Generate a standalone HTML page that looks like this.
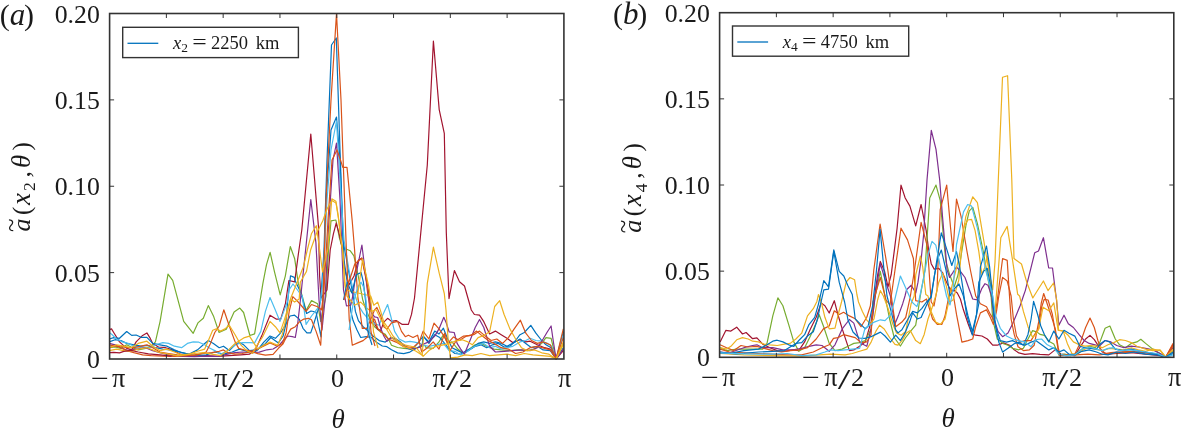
<!DOCTYPE html>
<html><head><meta charset="utf-8"><title>figure</title>
<style>
html,body{margin:0;padding:0;background:#fff;}
svg{display:block;will-change:transform;font-family:"Liberation Serif", serif;fill:#1a1a1a;}
</style></head>
<body>
<svg width="1184" height="429" viewBox="0 0 1184 429">
<rect width="1184" height="429" fill="#fff"/>
<clipPath id="ca"><rect x="109.6" y="12.5" width="454.29999999999995" height="347.0"/></clipPath>
<clipPath id="cb"><rect x="719.6" y="11.7" width="454.19999999999993" height="346.1"/></clipPath>
<polyline points="109.3,347.7 115.1,347.0 120.9,348.4 126.7,344.8 132.5,347.7 138.2,349.9 145.5,348.4 151.2,346.2 155.4,341.8 160.1,321.3 168.0,274.1 172.7,280.4 183.7,321.3 193.2,333.3 197.9,322.9 203.3,318.2 208.3,305.6 213.7,316.6 219.0,332.4 226.3,329.2 234.1,311.9 239.8,308.1 243.6,312.5 249.9,335.5 254.6,333.9 262.9,283.4 266.5,264.6 270.1,252.3 274.5,271.8 280.2,294.9 285.3,276.1 290.3,246.5 294.7,258.8 298.3,283.4 301.9,294.9 306.1,310.6 311.5,300.6 317.6,303.7 320.7,321.4 326.0,296.0 328.5,250.0 331.0,220.8 335.9,220.0 339.2,237.0 342.4,248.5 345.3,248.7 350.3,250.8 353.9,255.9 356.8,268.9 359.7,283.4 362.6,299.2 365.4,308.3 370.0,319.1 374.6,326.7 380.7,332.1 385.3,334.4 389.2,340.6 391.5,345.2 397.6,347.5 403.8,348.3 409.9,349.0 416.1,348.3 425.0,345.2 426.0,347.7 433.2,348.4 439.0,341.9 443.4,334.7 447.7,343.4 452.0,341.9 457.8,349.1 463.6,353.5 469.4,349.1 475.2,344.8 480.9,343.4 486.7,346.3 494.0,349.1 501.2,349.9 509.9,350.6 518.5,349.9 527.2,350.6 534.4,349.1 541.7,343.4 546.0,337.6 551.1,338.3 556.1,359.0 563.3,343.4" fill="none" stroke="#77AC30" stroke-width="1.2" stroke-linejoin="round" clip-path="url(#ca)"/>
<polyline points="109.3,329.6 111.5,328.9 113.7,332.5 119.5,341.9 126.7,348.4 131.7,349.9 136.1,341.9 142.6,335.4 146.9,332.9 149.8,337.6 152.7,343.4 158.5,347.0 165.7,347.7 172.9,349.9 180.1,354.2 187.4,355.6 194.6,356.4 206.2,355.6 217.7,356.4 229.3,355.6 240.8,354.9 249.5,354.2 256.1,348.3 262.3,334.4 270.0,315.2 276.1,319.1 280.7,319.1 285.4,303.7 288.9,280.5 294.7,281.9 298.3,254.5 301.8,230.0 310.8,134.0 318.5,227.0 319.6,276.0 321.0,298.0 327.0,290.0 330.2,250.0 333.4,233.8 336.2,223.2 339.2,233.8 342.7,250.0 344.5,268.0 349.0,285.0 354.0,276.0 358.3,260.2 361.9,258.0 364.0,269.0 368.4,290.6 371.5,311.4 373.8,322.1 377.7,329.1 380.7,330.6 383.8,322.1 387.6,318.3 391.5,321.4 396.1,320.6 402.3,324.4 408.4,324.4 411.5,314.4 414.5,298.0 427.3,165.0 433.4,41.0 439.2,109.6 444.3,133.3 446.3,232.6 449.0,298.6 454.4,270.5 459.5,281.7 464.5,286.0 471.3,310.0 474.4,314.5 479.5,315.2 483.8,321.7 489.6,334.0 495.4,331.1 501.2,334.7 507.0,338.3 512.7,342.6 520.0,339.8 525.8,341.9 530.1,341.2 537.3,344.8 544.6,347.7 550.3,349.1 556.1,359.0 563.3,350.6" fill="none" stroke="#A2142F" stroke-width="1.2" stroke-linejoin="round" clip-path="url(#ca)"/>
<polyline points="109.3,339.0 113.7,337.6 119.5,338.3 126.7,331.5 131.7,335.4 136.1,335.0 141.1,337.3 146.9,337.3 152.7,343.4 159.9,344.8 167.1,346.2 174.4,349.9 181.6,352.7 188.8,354.2 197.5,349.9 203.3,344.8 208.3,340.5 213.4,343.4 219.2,347.7 223.5,346.2 229.3,350.6 235.1,344.8 239.4,342.6 243.7,344.8 249.5,350.6 257.7,349.8 263.8,342.1 270.0,336.0 275.4,338.3 280.0,333.7 285.4,325.2 290.0,316.0 294.6,315.2 299.2,319.1 303.0,328.3 306.9,332.9 310.7,332.9 313.8,323.7 317.6,311.4 320.7,300.6 324.0,250.0 327.0,160.0 331.5,45.0 336.3,38.0 340.0,150.0 344.0,260.0 349.2,296.0 350.8,311.4 353.1,320.6 356.9,329.8 360.7,337.5 366.1,336.7 371.5,337.5 376.1,342.1 382.3,346.0 386.9,346.7 391.5,349.8 397.6,352.9 403.8,353.6 409.9,352.1 416.1,348.3 422.2,345.2 423.1,336.1 428.9,341.9 434.7,331.1 439.0,334.0 443.4,328.2 447.7,339.0 452.0,347.7 457.8,350.6 463.6,353.5 469.4,349.9 475.2,346.3 480.9,344.8 486.7,347.7 492.5,344.8 498.3,343.4 504.1,347.0 509.9,346.3 515.6,340.5 520.0,334.7 524.3,332.5 530.8,325.3 535.9,333.2 541.7,340.5 546.0,344.8 551.1,347.7 556.1,359.0 563.3,331.8" fill="none" stroke="#0072BD" stroke-width="1.2" stroke-linejoin="round" clip-path="url(#ca)"/>
<polyline points="109.3,341.9 115.1,339.7 120.9,340.5 126.7,343.4 133.9,344.8 141.1,346.2 148.4,345.5 155.6,347.7 162.8,349.1 170.0,349.9 177.3,351.3 185.9,353.5 194.6,355.6 206.2,354.9 214.8,352.0 223.5,354.2 232.2,352.0 239.4,349.1 246.6,351.3 253.8,352.7 259.2,348.3 265.4,343.7 270.8,337.5 278.4,342.9 283.1,336.0 285.7,325.2 287.8,300.0 290.5,275.8 294.3,277.4 295.3,281.0 300.5,292.0 306.6,313.5 311.0,311.0 316.0,312.0 321.0,337.0 323.0,300.0 326.0,200.0 331.0,130.0 336.5,117.0 340.0,160.0 343.0,240.0 353.1,296.0 355.4,311.4 358.4,320.6 363.1,326.7 368.4,331.4 373.0,336.0 379.2,340.6 385.3,342.1 391.5,337.5 396.1,339.0 400.7,342.1 406.9,348.3 411.5,349.8 416.1,345.2 422.2,337.5 423.9,336.9 428.9,343.4 434.7,334.7 439.8,337.6 443.4,341.9 449.1,349.1 454.9,353.5 460.7,354.2 466.5,350.6 472.3,347.7 478.1,343.4 483.8,341.9 489.6,343.4 495.4,341.9 501.2,343.4 507.0,346.3 512.7,343.4 520.0,339.0 525.8,343.4 531.5,347.7 537.3,346.3 543.1,349.9 550.3,350.6 556.1,359.0 563.3,347.7" fill="none" stroke="#0072BD" stroke-width="1.2" stroke-linejoin="round" clip-path="url(#ca)"/>
<polyline points="109.3,332.5 112.2,334.7 116.6,339.0 122.3,341.9 128.1,343.4 133.9,346.2 141.1,347.7 148.4,348.4 155.6,344.8 162.8,342.6 168.6,343.4 174.4,346.2 181.6,347.7 187.4,343.4 193.2,341.9 198.9,342.2 204.7,344.8 209.0,347.7 214.8,350.6 220.6,354.2 227.8,350.6 235.1,344.8 242.3,342.6 249.5,342.6 254.6,342.9 260.8,331.4 265.4,311.4 270.0,297.5 274.6,308.3 280.0,321.4 283.8,311.4 287.7,300.6 289.0,290.0 293.0,284.0 299.0,292.0 302.3,296.0 306.1,324.4 311.5,316.0 317.6,308.3 319.9,305.2 323.0,280.0 327.0,200.0 331.0,150.0 336.5,121.0 340.0,180.0 344.0,240.0 349.0,270.0 353.0,290.0 358.4,305.2 363.1,312.9 368.4,319.1 374.6,323.7 379.2,325.2 383.0,314.4 387.6,304.5 390.7,316.0 394.6,331.4 399.2,339.0 405.3,342.1 409.9,341.3 414.6,342.1 420.7,343.7 421.7,344.8 428.9,346.3 436.1,344.8 443.4,343.4 449.1,350.6 454.9,351.3 460.7,354.9 466.5,352.0 472.3,347.7 478.1,344.8 483.8,343.4 489.6,347.7 495.4,346.3 501.2,349.1 507.0,347.7 512.7,346.3 520.0,341.9 525.8,340.5 530.1,338.3 535.9,340.5 541.7,341.2 547.4,343.4 551.8,346.3 556.1,359.0 563.3,334.7" fill="none" stroke="#4DBEEE" stroke-width="1.2" stroke-linejoin="round" clip-path="url(#ca)"/>
<polyline points="109.3,343.4 115.1,344.8 120.9,347.7 128.1,350.6 136.8,349.1 145.5,347.7 152.7,350.6 162.8,353.5 172.9,355.6 183.0,356.4 194.6,356.6 206.2,356.1 217.7,356.4 227.8,354.2 235.1,352.7 242.3,352.0 249.5,352.7 259.2,352.1 266.9,349.8 273.1,349.0 279.2,345.2 283.1,340.6 287.7,336.0 292.3,336.7 295.3,337.5 297.7,323.7 300.0,303.7 305.6,250.0 310.8,199.5 315.9,242.6 319.0,300.0 322.0,330.0 325.0,300.0 329.0,220.0 333.0,160.0 336.5,143.0 340.0,200.0 343.5,290.0 346.5,306.0 350.8,305.2 352.8,296.0 355.0,280.0 358.5,262.0 361.9,245.0 365.0,270.0 368.0,296.0 371.5,312.9 374.6,316.8 377.7,317.5 380.7,328.3 383.8,336.0 386.9,341.3 390.7,337.5 396.1,340.6 402.3,343.7 408.4,348.3 414.6,349.0 420.7,346.7 421.7,344.8 428.9,341.9 434.7,336.1 439.0,328.9 443.8,317.3 446.3,323.1 449.1,331.8 454.2,332.5 457.1,343.4 460.7,349.1 464.3,354.2 469.4,341.9 475.2,327.5 479.5,319.5 483.8,327.5 489.6,346.3 495.4,352.0 504.1,351.3 512.7,350.6 521.4,349.9 530.1,350.6 537.3,347.7 543.1,339.0 547.4,331.8 551.1,326.0 553.2,340.5 556.1,359.0 563.3,349.1" fill="none" stroke="#7E2F8E" stroke-width="1.2" stroke-linejoin="round" clip-path="url(#ca)"/>
<polyline points="109.3,347.7 115.1,345.5 120.9,347.7 126.7,350.6 133.9,352.7 142.6,354.9 151.2,355.6 162.8,356.1 174.4,356.4 185.9,355.6 197.5,354.9 206.2,352.0 210.5,343.4 214.8,332.5 219.2,326.0 223.8,309.8 229.3,326.0 235.1,341.9 238.7,348.4 243.7,349.9 249.5,350.6 257.7,353.6 265.4,355.2 273.1,354.4 278.4,348.3 283.1,343.7 286.9,336.0 290.7,329.1 295.3,326.7 299.2,322.1 303.8,319.1 308.4,318.3 311.5,319.8 316.1,331.4 320.7,345.2 322.6,311.4 326.0,200.0 331.0,100.0 336.5,13.6 341.0,100.0 346.0,240.0 349.2,319.1 352.3,345.2 357.7,342.9 363.1,340.6 367.7,336.7 370.7,323.7 374.6,319.1 377.7,328.3 382.3,332.9 388.4,339.0 396.1,342.1 403.8,346.7 413.0,347.5 419.2,342.1 423.1,331.1 428.9,339.0 434.0,323.1 439.0,328.9 444.1,336.1 447.7,343.4 453.5,336.9 459.3,340.5 466.5,336.1 473.7,334.7 479.5,331.1 485.3,336.1 491.1,340.5 496.8,339.0 502.6,343.4 508.4,337.6 514.2,328.9 520.4,320.2 525.8,333.2 531.5,340.5 537.3,343.4 543.1,341.9 550.3,344.8 556.1,359.0 563.3,328.9" fill="none" stroke="#D95319" stroke-width="1.2" stroke-linejoin="round" clip-path="url(#ca)"/>
<polyline points="109.3,344.8 115.1,346.2 120.9,346.2 126.7,347.7 133.9,347.7 141.1,346.2 146.9,344.8 152.7,347.7 159.9,352.0 168.6,353.5 177.3,354.9 185.9,355.6 194.6,354.9 203.3,353.5 211.9,352.7 219.2,351.3 223.5,349.9 227.8,352.7 235.1,354.2 242.3,353.5 249.5,352.0 256.1,349.8 262.3,346.7 270.0,342.9 276.9,346.0 282.3,343.7 286.1,332.9 289.2,311.4 292.8,296.6 297.4,301.2 300.0,304.0 306.1,311.4 311.5,304.5 317.6,306.8 321.5,309.8 324.0,290.0 328.0,220.0 332.0,160.0 337.0,150.0 340.5,160.0 342.8,167.4 347.0,167.4 352.2,220.8 354.6,250.0 357.7,296.0 360.0,311.4 362.3,328.3 366.9,328.3 370.3,320.6 374.6,309.8 376.9,307.5 380.7,316.0 383.8,326.7 386.9,329.1 391.5,322.9 397.6,321.4 401.5,331.4 405.3,336.7 408.4,335.2 413.0,337.5 417.6,335.2 421.7,352.0 427.5,347.7 433.2,341.9 439.0,349.1 444.8,333.2 449.9,350.6 456.4,340.5 463.6,336.1 470.8,335.4 476.6,331.1 482.4,336.1 488.2,340.5 494.0,343.4 501.2,347.7 508.4,349.1 515.6,353.5 522.9,352.0 530.1,347.7 537.3,346.3 544.6,348.4 550.3,349.9 556.1,359.0 563.3,337.6" fill="none" stroke="#D95319" stroke-width="1.2" stroke-linejoin="round" clip-path="url(#ca)"/>
<polyline points="109.3,347.7 116.6,344.8 123.8,346.2 131.0,347.7 138.2,343.4 146.9,341.2 152.7,346.2 159.9,350.6 167.1,349.1 174.4,352.0 181.6,354.9 188.8,354.2 197.5,351.3 204.7,349.1 209.0,339.0 212.7,330.3 216.3,328.9 220.6,331.1 224.9,328.9 229.3,325.3 235.1,334.7 240.8,344.8 246.6,350.6 252.4,353.5 256.1,346.7 262.3,337.5 270.0,321.4 275.4,326.7 280.0,332.9 284.6,319.1 290.0,300.6 291.0,297.5 297.2,282.2 303.4,266.8 307.3,250.0 311.4,233.8 316.3,225.7 319.0,245.0 322.5,272.0 327.7,250.0 331.8,198.8 335.9,201.2 338.3,216.0 340.8,239.0 342.7,250.0 344.5,282.0 346.9,296.0 354.6,305.2 360.7,302.1 366.9,308.3 371.5,311.4 376.1,309.8 380.7,319.1 386.9,329.8 391.5,337.5 397.6,342.1 403.8,346.7 409.9,348.3 416.1,351.3 422.2,355.2 427.3,283.4 433.4,247.2 439.2,273.2 444.3,293.5 446.0,310.0 448.4,343.4 450.6,357.8 457.8,357.1 465.0,354.9 472.3,355.7 480.9,353.5 489.6,355.7 498.3,354.9 507.0,354.2 515.6,355.7 524.3,353.5 533.0,354.9 541.7,355.7 550.3,356.4 556.1,359.0 563.3,344.8" fill="none" stroke="#EDB120" stroke-width="1.2" stroke-linejoin="round" clip-path="url(#ca)"/>
<polyline points="109.3,350.6 116.6,349.1 123.8,350.6 131.0,351.3 138.2,349.1 146.9,347.7 152.7,349.9 159.9,352.7 168.6,354.2 177.3,355.6 185.9,354.9 194.6,353.5 203.3,352.7 211.9,354.2 220.6,355.6 227.8,350.6 235.1,343.4 243.7,337.9 249.5,336.1 257.7,349.0 263.8,345.2 270.0,342.1 277.7,345.2 282.3,334.4 286.9,314.4 290.7,299.1 294.6,302.1 299.2,299.1 300.3,282.2 306.5,271.4 310.6,250.0 316.3,233.8 322.8,220.8 327.0,209.0 331.8,200.5 336.0,203.0 339.0,222.0 343.0,255.0 345.5,290.0 370.7,296.0 373.8,305.2 377.7,302.1 380.7,311.4 383.8,322.1 388.4,328.3 393.0,336.0 399.2,342.1 405.3,345.2 409.9,346.0 416.1,347.5 423.1,356.4 428.9,350.6 436.1,346.3 443.4,344.8 449.9,343.4 454.9,341.2 462.2,339.8 467.9,341.9 472.3,344.8 478.1,337.6 483.8,335.4 489.6,331.8 494.7,306.5 499.7,300.7 504.1,314.5 509.9,328.9 515.6,339.0 521.4,347.7 527.2,350.6 534.4,349.9 541.7,352.8 548.9,354.2 556.1,359.0 563.3,341.9" fill="none" stroke="#EDB120" stroke-width="1.2" stroke-linejoin="round" clip-path="url(#ca)"/>
<polyline points="343.5,300.0 347.2,282.2 351.8,292.9 356.5,274.5 361.1,272.6 363.4,282.2 365.7,302.0 368.0,332.0 372.0,345.0" fill="none" stroke="#0072BD" stroke-width="1.2" stroke-linejoin="round" clip-path="url(#ca)"/>
<polyline points="349.0,330.0 353.4,302.0 358.0,286.8 361.1,282.2 363.4,286.8 365.7,297.5 368.0,322.0 371.0,340.0" fill="none" stroke="#4DBEEE" stroke-width="1.2" stroke-linejoin="round" clip-path="url(#ca)"/>
<polyline points="344.0,300.0 348.8,282.2 354.9,263.7 361.8,258.3 365.7,274.5 368.8,297.5 371.0,332.0 375.0,346.0" fill="none" stroke="#D95319" stroke-width="1.2" stroke-linejoin="round" clip-path="url(#ca)"/>
<polyline points="357.0,300.0 362.6,259.0 368.8,286.8 371.0,302.0 373.5,332.0 378.0,348.0" fill="none" stroke="#EDB120" stroke-width="1.2" stroke-linejoin="round" clip-path="url(#ca)"/>
<polyline points="109.3,352.7 113.7,352.3 119.5,352.9 123.8,351.4 131.0,350.3 138.2,352.0 148.4,353.8 159.9,354.9 171.5,356.1" fill="none" stroke="#A2142F" stroke-width="1.2" stroke-linejoin="round" clip-path="url(#ca)"/>
<polyline points="720.1,341.9 725.8,330.4 730.9,331.1 736.7,327.2 742.5,334.0 746.1,332.5 752.6,338.7 756.9,337.9 762.7,344.1 769.9,347.7 777.2,350.6 784.4,351.3 793.1,349.9 798.8,350.6 804.6,341.9 810.4,328.9 816.2,317.3 821.2,302.9 824.9,305.8 829.2,313.0 834.3,300.7 837.9,314.5 842.2,328.9 849.4,350.6 853.8,349.9 859.6,346.3 865.3,341.9 871.1,321.7 873.8,302.0 877.7,274.5 880.3,261.4 884.6,271.4 888.0,286.8 891.2,274.5 894.2,251.4 897.1,228.2 901.0,185.1 905.2,198.0 909.9,206.1 915.7,225.9 921.1,204.5 926.2,230.6 928.8,251.4 931.2,263.7 934.2,269.1 938.8,268.3 942.7,272.9 946.5,282.2 950.4,289.8 954.2,290.6 957.3,292.9 960.4,299.0 963.4,309.8 968.1,323.7 971.9,333.7 975.7,335.2 981.9,336.0 987.3,339.0 992.7,345.2 997.3,345.2 1003.4,342.9 1009.6,345.2 1014.2,349.8 1018.8,352.9 1024.9,354.4 1032.6,353.6 1040.0,354.4 1048.8,354.9 1056.0,349.1 1060.3,354.2 1067.6,354.9 1074.8,355.6 1080.6,346.2 1085.6,339.0 1090.0,335.4 1094.3,339.7 1098.6,346.2 1102.3,352.0 1108.0,354.2 1116.7,353.5 1131.2,352.7 1145.6,354.2 1160.1,355.6 1165.8,357.1 1173.1,344.8" fill="none" stroke="#A2142F" stroke-width="1.2" stroke-linejoin="round" clip-path="url(#cb)"/>
<polyline points="720.1,347.7 726.6,350.6 736.7,349.1 751.1,349.1 762.7,349.1 767.0,343.4 772.8,315.9 777.9,297.8 782.9,305.8 788.7,324.6 793.8,341.9 798.8,351.3 804.6,347.7 810.4,336.1 816.2,323.1 819.1,314.5 823.4,326.0 829.2,343.4 835.0,350.6 842.2,349.1 848.0,346.3 853.8,343.4 859.6,342.6 865.3,340.5 871.1,328.9 874.5,300.0 880.3,271.4 885.0,296.0 889.6,319.0 894.2,337.5 900.4,346.0 905.7,337.5 911.1,330.6 915.7,325.2 918.0,311.4 920.3,296.0 925.0,270.0 929.7,198.0 936.0,185.1 940.2,200.3 943.7,239.9 946.0,262.0 949.6,274.5 954.2,286.8 958.0,275.0 962.0,250.0 966.0,225.0 969.3,210.8 972.8,207.3 977.4,223.6 983.3,251.5 987.3,274.5 991.2,297.5 992.7,319.1 997.3,339.0 1003.4,343.7 1008.0,345.2 1012.6,348.3 1018.8,349.8 1023.4,348.3 1028.0,339.0 1032.6,330.6 1037.2,332.1 1040.0,334.4 1044.5,335.4 1048.8,341.2 1053.8,344.1 1058.9,354.9 1064.7,354.2 1070.5,355.6 1076.2,353.5 1082.0,349.1 1089.2,346.2 1095.0,347.7 1099.4,343.4 1105.1,328.2 1109.9,326.0 1115.3,339.0 1119.6,344.8 1125.4,347.7 1131.2,343.4 1136.9,341.9 1140.8,339.3 1145.6,343.4 1152.8,349.1 1160.1,353.5 1165.8,357.1 1173.1,350.6" fill="none" stroke="#77AC30" stroke-width="1.2" stroke-linejoin="round" clip-path="url(#cb)"/>
<polyline points="720.1,352.0 729.5,352.8 743.9,347.7 752.6,345.5 756.9,344.8 762.7,347.7 772.8,347.7 782.9,349.9 793.1,349.9 801.7,348.4 809.0,346.3 816.2,344.8 822.0,345.5 829.2,351.3 835.0,344.8 842.2,328.9 849.4,319.5 853.8,323.1 859.6,341.9 863.9,344.8 866.8,346.3 871.1,328.9 876.0,290.0 880.3,263.7 885.8,282.2 890.4,296.0 892.7,311.4 895.0,323.7 898.8,314.4 902.7,303.7 905.0,296.0 906.5,289.8 911.2,285.2 915.8,292.9 918.0,282.2 921.2,259.0 923.5,236.0 927.0,180.0 931.3,130.4 936.0,149.4 939.7,180.0 942.5,216.6 947.1,270.0 949.6,277.5 952.7,272.9 956.5,266.8 960.4,271.4 965.0,277.5 968.8,288.3 972.7,299.0 977.3,299.8 981.9,288.3 985.0,283.7 988.0,285.2 991.2,294.5 994.2,319.0 998.0,331.4 1002.6,336.7 1008.0,332.9 1012.6,323.7 1016.5,314.4 1020.3,305.2 1023.4,296.0 1025.3,290.6 1034.7,252.8 1038.5,251.0 1043.4,237.7 1048.7,268.0 1052.5,268.0 1056.5,300.0 1058.9,325.3 1064.0,315.2 1068.3,323.8 1073.4,327.5 1079.1,334.7 1084.2,340.5 1089.2,343.4 1095.0,344.8 1099.4,346.2 1105.1,340.5 1110.9,341.9 1116.7,345.5 1123.9,347.7 1131.2,346.2 1138.4,347.0 1145.6,348.4 1152.8,349.9 1160.1,353.5 1165.8,357.1 1173.1,347.7" fill="none" stroke="#7E2F8E" stroke-width="1.2" stroke-linejoin="round" clip-path="url(#cb)"/>
<polyline points="720.1,344.8 726.6,347.7 733.8,350.6 741.0,345.5 748.2,347.0 756.9,346.3 764.1,348.4 772.8,350.6 781.5,352.0 790.2,350.6 798.8,349.9 807.5,347.7 816.2,339.0 823.4,328.9 829.2,326.0 834.3,310.8 839.3,314.5 843.6,312.3 849.4,315.9 855.2,318.8 861.0,326.7 866.8,317.3 870.4,305.8 873.8,270.0 880.1,224.0 887.8,270.0 893.4,311.4 895.7,326.7 901.9,322.1 905.7,317.5 908.8,303.7 910.4,296.0 914.5,270.0 921.1,222.4 927.4,246.9 928.8,266.8 931.2,302.0 934.0,306.0 937.0,290.0 940.2,209.6 946.7,185.1 950.6,228.2 953.0,251.5 956.5,199.1 961.1,216.6 967.0,251.5 970.4,270.0 975.7,296.0 980.4,303.7 986.5,306.8 990.4,314.4 994.2,320.6 997.3,300.0 1002.6,258.5 1007.2,260.4 1009.5,296.0 1011.1,319.0 1014.2,334.4 1018.0,346.7 1023.4,350.6 1029.5,349.8 1034.2,345.2 1038.7,321.7 1041.3,302.9 1043.7,293.5 1045.9,300.0 1051.7,317.3 1055.3,328.9 1058.2,347.7 1060.3,355.6 1067.6,354.9 1074.8,354.2 1080.6,341.9 1085.6,327.5 1090.0,318.1 1094.3,327.5 1097.9,340.5 1100.8,349.1 1105.1,353.5 1110.9,352.7 1116.7,352.0 1131.2,351.3 1145.6,352.7 1160.1,354.9 1165.8,357.1 1173.1,343.4" fill="none" stroke="#D95319" stroke-width="1.2" stroke-linejoin="round" clip-path="url(#cb)"/>
<polyline points="720.1,349.1 729.5,352.0 743.9,352.8 758.4,353.5 772.8,354.2 787.3,354.9 801.7,354.9 813.3,352.0 822.0,347.7 829.2,344.8 833.5,338.3 837.9,337.6 843.6,334.7 849.4,336.1 855.2,337.6 861.0,342.6 866.8,341.9 871.1,334.7 873.0,302.0 880.3,277.5 886.0,300.0 890.0,305.0 895.0,270.0 901.0,228.2 907.5,239.9 913.4,258.5 915.7,300.6 921.9,302.0 926.5,299.0 932.6,319.0 937.3,324.4 941.9,324.4 945.0,316.0 948.0,300.6 950.5,288.0 953.5,296.0 956.5,314.4 961.9,342.1 968.0,340.6 972.7,339.0 975.7,326.7 980.4,312.9 986.5,309.8 990.4,317.5 993.4,324.4 996.5,311.4 998.8,296.0 1002.6,277.4 1007.2,281.0 1011.1,296.0 1013.4,319.0 1016.5,336.0 1020.3,342.1 1025.0,340.6 1031.0,340.6 1035.7,332.9 1038.7,328.9 1041.6,307.2 1044.2,299.3 1048.1,300.0 1052.4,314.5 1056.0,336.1 1058.9,354.9 1067.6,355.6 1076.2,354.9 1087.8,354.2 1099.4,354.9 1110.9,353.5 1122.5,352.7 1134.0,352.0 1145.6,352.7 1157.2,354.2 1165.8,357.1 1173.1,346.2" fill="none" stroke="#D95319" stroke-width="1.2" stroke-linejoin="round" clip-path="url(#cb)"/>
<polyline points="720.1,347.7 726.6,349.1 730.9,346.3 736.7,339.8 742.5,337.6 748.2,339.0 752.6,341.2 758.4,341.9 764.1,344.1 769.9,344.8 777.2,345.5 784.4,344.1 790.2,343.4 795.9,339.0 801.7,333.2 807.5,315.9 813.3,308.7 816.9,301.4 818.5,294.5 821.5,303.0 824.9,317.3 829.2,328.9 835.0,328.2 838.6,313.0 841.5,302.0 846.2,282.2 850.0,277.5 854.6,279.8 856.9,294.5 858.5,302.0 862.4,311.6 866.8,320.2 870.4,323.9 874.0,318.8 877.6,300.0 880.3,290.6 883.4,296.0 888.0,308.3 892.7,323.7 896.5,332.9 901.1,335.2 905.7,331.4 908.8,316.0 911.1,303.7 914.2,296.0 915.8,274.5 920.4,256.0 922.7,266.8 925.8,294.5 928.0,296.0 931.1,311.4 935.7,322.1 940.3,324.4 945.0,319.0 948.0,305.2 949.5,296.0 958.8,258.5 965.8,216.6 972.8,196.8 977.4,202.6 982.1,230.6 986.8,258.5 989.6,274.5 992.7,290.0 995.0,262.0 998.3,180.0 1002.5,77.3 1007.6,75.7 1011.8,180.0 1014.0,258.5 1021.5,264.0 1027.0,283.0 1032.8,298.0 1043.4,281.0 1048.0,290.6 1053.6,283.0 1056.7,300.0 1058.5,330.0 1063.2,331.1 1067.3,343.4 1071.9,353.5 1076.2,354.9 1082.0,350.6 1087.8,347.7 1095.0,349.1 1102.3,350.6 1109.5,348.4 1116.7,349.1 1123.9,349.9 1131.2,347.7 1138.4,349.9 1145.6,351.3 1152.8,349.1 1160.1,350.6 1165.8,357.1 1173.1,350.6" fill="none" stroke="#EDB120" stroke-width="1.2" stroke-linejoin="round" clip-path="url(#cb)"/>
<polyline points="720.1,353.5 743.9,354.9 772.8,355.7 801.7,356.1 830.6,354.2 845.1,354.9 852.3,353.5 859.6,351.3 866.8,349.1 871.1,342.1 875.8,331.4 879.6,325.2 884.2,329.0 889.6,337.5 895.0,344.4 898.0,345.2 901.9,340.6 906.5,332.9 910.3,330.6 915.7,340.6 920.3,343.7 924.2,334.4 928.0,319.0 931.9,308.3 934.2,300.6 935.7,296.0 938.8,282.2 942.7,273.0 946.5,286.8 949.6,302.0 953.0,300.0 958.8,280.0 963.5,228.2 967.7,220.0 971.6,219.4 975.1,230.6 978.8,251.4 981.9,274.5 985.0,266.8 987.3,256.0 989.6,274.5 992.7,302.0 995.0,313.0 1000.8,237.7 1007.2,226.4 1012.0,256.6 1017.7,294.3 1019.6,296.0 1023.4,311.4 1028.0,326.7 1032.6,337.5 1035.7,334.4 1038.7,328.9 1043.0,307.2 1048.8,310.8 1053.8,302.9 1058.2,330.3 1063.2,331.0 1067.6,334.7 1073.4,341.9 1079.1,344.8 1084.9,346.2 1090.7,345.5 1096.5,346.2 1102.3,347.7 1108.0,344.8 1113.8,342.6 1119.6,339.7 1125.4,340.5 1131.2,342.6 1136.9,346.2 1145.6,349.1 1152.8,350.6 1160.1,349.9 1165.8,357.1 1173.1,349.1" fill="none" stroke="#EDB120" stroke-width="1.2" stroke-linejoin="round" clip-path="url(#cb)"/>
<polyline points="720.1,352.0 729.5,353.5 743.9,350.6 758.4,349.1 767.0,344.8 772.8,341.2 777.2,340.2 782.9,341.9 788.7,344.8 793.8,346.3 798.8,340.5 804.6,334.7 809.0,324.6 814.7,317.3 818.4,304.3 823.8,280.6 828.5,286.8 833.8,249.8 839.2,271.4 843.8,276.0 847.7,285.2 852.3,294.5 855.2,318.8 859.5,323.1 865.3,328.9 868.2,326.0 872.6,305.8 876.5,270.0 880.1,229.4 884.0,270.0 887.0,296.0 891.1,311.4 895.7,329.8 898.0,332.9 901.9,329.8 908.0,319.0 912.7,311.4 917.3,312.9 921.9,308.3 926.5,302.0 931.2,297.5 935.8,266.8 939.5,243.7 941.3,232.9 946.0,246.9 951.8,265.5 956.5,251.5 959.6,266.8 962.7,286.8 966.5,314.4 972.4,335.2 975.7,319.0 978.8,303.7 980.4,266.8 986.5,246.0 989.6,266.8 992.7,297.5 994.2,319.0 998.8,342.1 1002.6,352.1 1008.0,348.3 1014.2,343.7 1018.8,342.1 1023.4,345.2 1028.0,334.4 1031.1,319.0 1033.6,301.4 1037.2,313.0 1040.8,326.0 1044.5,334.7 1048.8,341.9 1053.8,331.1 1058.9,339.0 1064.0,330.3 1069.0,333.2 1074.8,336.1 1079.9,346.2 1084.9,347.7 1090.7,348.4 1096.5,349.1 1100.8,343.4 1105.1,340.5 1109.5,341.9 1115.3,349.1 1122.5,350.6 1131.2,349.1 1139.8,351.3 1148.5,352.7 1157.2,354.2 1165.8,357.1 1173.1,352.0" fill="none" stroke="#0072BD" stroke-width="1.2" stroke-linejoin="round" clip-path="url(#cb)"/>
<polyline points="720.1,352.8 736.7,353.8 758.4,352.0 772.8,351.3 784.4,350.6 795.9,343.4 801.7,342.6 807.5,336.1 813.3,331.8 817.6,318.8 820.5,304.3 823.8,289.8 828.5,289.1 833.8,251.4 839.2,282.2 844.6,302.0 848.0,320.0 853.0,332.0 859.0,338.0 865.0,338.3 871.1,336.7 875.8,334.4 880.4,332.1 885.0,336.0 890.4,342.1 895.7,335.2 900.4,340.6 905.0,332.9 909.6,322.1 912.7,312.9 917.3,319.0 921.1,317.5 926.5,305.2 931.1,296.0 934.5,275.0 938.0,258.0 941.3,250.0 946.0,270.0 950.0,296.0 955.0,288.0 959.0,284.0 963.4,296.0 968.0,316.0 972.4,331.4 976.5,314.4 978.8,282.2 983.5,271.4 987.3,268.3 991.2,290.0 995.7,326.7 1000.3,340.6 1006.5,342.1 1012.6,340.6 1018.8,343.7 1025.0,345.2 1031.1,342.1 1035.8,340.5 1041.6,344.8 1048.8,349.9 1053.8,347.7 1058.9,352.0 1064.0,349.9 1069.0,354.2 1074.8,354.9 1082.0,351.3 1089.2,349.9 1096.5,352.0 1102.3,354.2 1108.0,354.9 1116.7,352.0 1125.4,353.5 1134.0,352.0 1145.6,354.2 1157.2,354.9 1165.8,357.1 1173.1,353.5" fill="none" stroke="#0072BD" stroke-width="1.2" stroke-linejoin="round" clip-path="url(#cb)"/>
<polyline points="720.1,352.8 743.9,353.8 772.8,354.2 787.3,353.5 801.7,355.7 816.2,354.9 824.9,352.0 830.6,349.9 837.9,350.6 845.1,349.9 852.3,349.1 859.6,348.4 865.0,328.3 869.6,325.2 874.2,322.1 880.4,319.8 885.0,320.6 890.4,315.2 894.2,302.0 900.4,276.0 906.5,289.8 911.9,302.0 916.9,306.6 919.0,300.0 923.5,279.0 928.0,254.5 932.0,241.4 935.8,245.2 938.8,259.0 942.7,279.0 946.5,296.0 950.0,305.0 953.0,290.0 956.5,244.5 963.5,211.9 967.7,204.5 971.6,206.1 977.4,228.2 982.1,251.5 985.6,270.0 992.7,296.0 995.7,316.0 1000.3,328.3 1006.5,336.0 1012.6,339.0 1018.8,340.6 1025.0,342.1 1031.1,346.7 1035.8,339.7 1041.6,339.0 1047.3,344.8 1053.1,347.7 1058.9,354.2 1066.1,355.6 1074.8,354.9 1082.0,349.1 1089.2,347.0 1096.5,349.1 1102.3,350.6 1108.0,348.4 1113.8,347.7 1119.6,350.6 1128.3,349.9 1136.9,350.6 1145.6,352.0 1157.2,353.5 1165.8,357.1 1173.1,354.9" fill="none" stroke="#4DBEEE" stroke-width="1.2" stroke-linejoin="round" clip-path="url(#cb)"/>
<rect x="109.6" y="13.5" width="454.29999999999995" height="345.5" fill="none" stroke="#333" stroke-width="1.6"/>
<line x1="166.39" y1="359.0" x2="166.39" y2="354.5" stroke="#333" stroke-width="1"/>
<line x1="166.39" y1="13.5" x2="166.39" y2="18.0" stroke="#333" stroke-width="1"/>
<line x1="223.17" y1="359.0" x2="223.17" y2="354.5" stroke="#333" stroke-width="1"/>
<line x1="223.17" y1="13.5" x2="223.17" y2="18.0" stroke="#333" stroke-width="1"/>
<line x1="279.96" y1="359.0" x2="279.96" y2="354.5" stroke="#333" stroke-width="1"/>
<line x1="279.96" y1="13.5" x2="279.96" y2="18.0" stroke="#333" stroke-width="1"/>
<line x1="336.75" y1="359.0" x2="336.75" y2="354.5" stroke="#333" stroke-width="1"/>
<line x1="336.75" y1="13.5" x2="336.75" y2="18.0" stroke="#333" stroke-width="1"/>
<line x1="393.54" y1="359.0" x2="393.54" y2="354.5" stroke="#333" stroke-width="1"/>
<line x1="393.54" y1="13.5" x2="393.54" y2="18.0" stroke="#333" stroke-width="1"/>
<line x1="450.32" y1="359.0" x2="450.32" y2="354.5" stroke="#333" stroke-width="1"/>
<line x1="450.32" y1="13.5" x2="450.32" y2="18.0" stroke="#333" stroke-width="1"/>
<line x1="507.11" y1="359.0" x2="507.11" y2="354.5" stroke="#333" stroke-width="1"/>
<line x1="507.11" y1="13.5" x2="507.11" y2="18.0" stroke="#333" stroke-width="1"/>
<line x1="109.6" y1="99.88" x2="114.1" y2="99.88" stroke="#333" stroke-width="1"/>
<line x1="563.9" y1="99.88" x2="559.4" y2="99.88" stroke="#333" stroke-width="1"/>
<line x1="109.6" y1="186.25" x2="114.1" y2="186.25" stroke="#333" stroke-width="1"/>
<line x1="563.9" y1="186.25" x2="559.4" y2="186.25" stroke="#333" stroke-width="1"/>
<line x1="109.6" y1="272.62" x2="114.1" y2="272.62" stroke="#333" stroke-width="1"/>
<line x1="563.9" y1="272.62" x2="559.4" y2="272.62" stroke="#333" stroke-width="1"/>
<text x="-0.2" y="24.6" font-size="30">(</text>
<text x="9.8" y="25.0" font-size="31" font-style="italic">a</text>
<text x="24.0" y="24.6" font-size="30">)</text>
<text x="99.8" y="22.5" font-size="25.8" text-anchor="end">0.20</text>
<text x="99.8" y="108.9" font-size="25.8" text-anchor="end">0.15</text>
<text x="99.8" y="195.2" font-size="25.8" text-anchor="end">0.10</text>
<text x="99.8" y="281.6" font-size="25.8" text-anchor="end">0.05</text>
<text x="99.8" y="368.0" font-size="25.8" text-anchor="end">0</text>
<text x="91.0" y="386.7" font-size="26" textLength="18" lengthAdjust="spacingAndGlyphs">−</text><text x="112.0" y="386.7" font-size="26.3" text-anchor="start">π</text>
<text x="192.0" y="386.7" font-size="26" textLength="18" lengthAdjust="spacingAndGlyphs">−</text><text x="214.3" y="386.7" font-size="26.3" text-anchor="start">π</text><text transform="translate(227.8,389.9) scale(1.75,1.12)" font-size="26">/</text><text x="241.2" y="386.7" font-size="26" text-anchor="start">2</text>
<text x="337.6" y="386.7" font-size="26" text-anchor="middle">0</text>
<text x="432.4" y="386.7" font-size="26.3" text-anchor="start">π</text><text transform="translate(445.9,389.9) scale(1.75,1.12)" font-size="26">/</text><text x="459.1" y="386.7" font-size="26" text-anchor="start">2</text>
<text x="558.0" y="386.7" font-size="26.3" text-anchor="start">π</text>
<text x="338.1" y="427.6" font-size="27" text-anchor="middle" font-style="italic">θ</text>
<g transform="translate(29.9,231.6) rotate(-90)"><text x="0" y="0" font-size="26" font-style="italic">a</text><text x="-0.5" y="-10.5" font-size="25">~</text><text x="16.6" y="0" font-size="25">(</text><text x="26.6" y="0" font-size="27" font-style="italic">x</text><text x="40.6" y="5.2" font-size="17.5">2</text><text x="54.0" y="0" font-size="26">,</text><text x="63.6" y="0" font-size="27" font-style="italic">θ</text><text x="81.2" y="0" font-size="25">)</text></g>
<rect x="719.6" y="12.7" width="454.19999999999993" height="344.6" fill="none" stroke="#333" stroke-width="1.6"/>
<line x1="776.38" y1="357.3" x2="776.38" y2="352.8" stroke="#333" stroke-width="1"/>
<line x1="776.38" y1="12.7" x2="776.38" y2="17.2" stroke="#333" stroke-width="1"/>
<line x1="833.15" y1="357.3" x2="833.15" y2="352.8" stroke="#333" stroke-width="1"/>
<line x1="833.15" y1="12.7" x2="833.15" y2="17.2" stroke="#333" stroke-width="1"/>
<line x1="889.92" y1="357.3" x2="889.92" y2="352.8" stroke="#333" stroke-width="1"/>
<line x1="889.92" y1="12.7" x2="889.92" y2="17.2" stroke="#333" stroke-width="1"/>
<line x1="946.70" y1="357.3" x2="946.70" y2="352.8" stroke="#333" stroke-width="1"/>
<line x1="946.70" y1="12.7" x2="946.70" y2="17.2" stroke="#333" stroke-width="1"/>
<line x1="1003.47" y1="357.3" x2="1003.47" y2="352.8" stroke="#333" stroke-width="1"/>
<line x1="1003.47" y1="12.7" x2="1003.47" y2="17.2" stroke="#333" stroke-width="1"/>
<line x1="1060.25" y1="357.3" x2="1060.25" y2="352.8" stroke="#333" stroke-width="1"/>
<line x1="1060.25" y1="12.7" x2="1060.25" y2="17.2" stroke="#333" stroke-width="1"/>
<line x1="1117.03" y1="357.3" x2="1117.03" y2="352.8" stroke="#333" stroke-width="1"/>
<line x1="1117.03" y1="12.7" x2="1117.03" y2="17.2" stroke="#333" stroke-width="1"/>
<line x1="719.6" y1="98.85" x2="724.1" y2="98.85" stroke="#333" stroke-width="1"/>
<line x1="1173.8" y1="98.85" x2="1169.3" y2="98.85" stroke="#333" stroke-width="1"/>
<line x1="719.6" y1="185.00" x2="724.1" y2="185.00" stroke="#333" stroke-width="1"/>
<line x1="1173.8" y1="185.00" x2="1169.3" y2="185.00" stroke="#333" stroke-width="1"/>
<line x1="719.6" y1="271.15" x2="724.1" y2="271.15" stroke="#333" stroke-width="1"/>
<line x1="1173.8" y1="271.15" x2="1169.3" y2="271.15" stroke="#333" stroke-width="1"/>
<text x="613.0" y="23.8" font-size="30">(</text>
<text x="623.0" y="24.2" font-size="31" font-style="italic">b</text>
<text x="637.2" y="23.8" font-size="30">)</text>
<text x="709.8000000000001" y="21.7" font-size="25.8" text-anchor="end">0.20</text>
<text x="709.8000000000001" y="107.9" font-size="25.8" text-anchor="end">0.15</text>
<text x="709.8000000000001" y="194.0" font-size="25.8" text-anchor="end">0.10</text>
<text x="709.8000000000001" y="280.2" font-size="25.8" text-anchor="end">0.05</text>
<text x="709.8000000000001" y="366.3" font-size="25.8" text-anchor="end">0</text>
<text x="701.0" y="385.9" font-size="26" textLength="18" lengthAdjust="spacingAndGlyphs">−</text><text x="722.0" y="385.9" font-size="26.3" text-anchor="start">π</text>
<text x="801.9" y="385.9" font-size="26" textLength="18" lengthAdjust="spacingAndGlyphs">−</text><text x="824.2" y="385.9" font-size="26.3" text-anchor="start">π</text><text transform="translate(837.8,389.09999999999997) scale(1.75,1.12)" font-size="26">/</text><text x="851.1" y="385.9" font-size="26" text-anchor="start">2</text>
<text x="947.5" y="385.9" font-size="26" text-anchor="middle">0</text>
<text x="1042.3" y="385.9" font-size="26.3" text-anchor="start">π</text><text transform="translate(1055.8,389.09999999999997) scale(1.75,1.12)" font-size="26">/</text><text x="1069.0" y="385.9" font-size="26" text-anchor="start">2</text>
<text x="1167.9" y="385.9" font-size="26.3" text-anchor="start">π</text>
<text x="948.1" y="426.8" font-size="27" text-anchor="middle" font-style="italic">θ</text>
<g transform="translate(641.4,232.79999999999998) rotate(-90)"><text x="0" y="0" font-size="26" font-style="italic">a</text><text x="-0.5" y="-10.5" font-size="25">~</text><text x="16.6" y="0" font-size="25">(</text><text x="26.6" y="0" font-size="27" font-style="italic">x</text><text x="40.6" y="5.2" font-size="17.5">4</text><text x="54.0" y="0" font-size="26">,</text><text x="63.6" y="0" font-size="27" font-style="italic">θ</text><text x="81.2" y="0" font-size="25">)</text></g>
<rect x="122.7" y="27.3" width="175.7" height="30.3" fill="#fff" stroke="#333" stroke-width="1.4"/>
<line x1="127.5" y1="43.3" x2="158.3" y2="43.3" stroke="#0072BD" stroke-width="1.3"/>
<text x="172.9" y="48.900000000000006" font-size="18.5" font-style="italic">x</text>
<text x="181.3" y="51.800000000000004" font-size="13.5">2</text>
<text x="192.3" y="48.900000000000006" font-size="20" textLength="14.5" lengthAdjust="spacingAndGlyphs">=</text>
<text x="210.9" y="48.900000000000006" font-size="18.5">2250</text>
<text x="255.7" y="48.900000000000006" font-size="18.5">km</text>
<rect x="732.5" y="26.0" width="176.2" height="30.2" fill="#fff" stroke="#333" stroke-width="1.4"/>
<line x1="737.3" y1="42.0" x2="768.1" y2="42.0" stroke="#0072BD" stroke-width="1.3"/>
<text x="782.7" y="47.6" font-size="18.5" font-style="italic">x</text>
<text x="791.1" y="50.5" font-size="13.5">4</text>
<text x="802.1" y="47.6" font-size="20" textLength="14.5" lengthAdjust="spacingAndGlyphs">=</text>
<text x="820.7" y="47.6" font-size="18.5">4750</text>
<text x="865.5" y="47.6" font-size="18.5">km</text>
</svg>
</body></html>
